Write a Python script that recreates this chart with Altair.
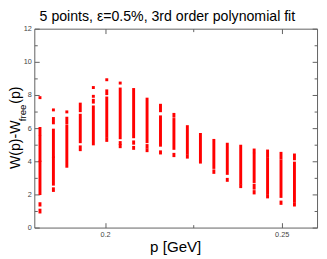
import altair as alt
import pandas as pd

# ---------------- data ----------------
P_GEV = [0.1816, 0.1854, 0.1892, 0.1930, 0.1967, 0.2005, 0.2043, 0.2081, 0.2119, 0.2157,
         0.2195, 0.2233, 0.2270, 0.2308, 0.2346, 0.2384, 0.2422, 0.2460, 0.2498, 0.2536]

# each column of points = runs of stacked points; lo == hi is a single point
SEG_LO = [
    [7.84, 5.65, 4.05, 2.05, 1.36, 0.94],
    [7.10, 6.32, 4.30, 2.62, 2.24],
    [6.98, 6.30, 3.70],
    [7.05, 5.18, 4.70],
    [8.45, 7.92, 7.57, 5.05],
    [8.92, 8.08, 5.50, 5.26],
    [8.72, 5.42, 5.08, 4.88],
    [5.48, 5.09, 4.78],
    [5.18, 4.87, 4.64],
    [7.05, 4.97, 4.50],
    [6.72, 4.78, 4.34],
    [4.48, 4.25],
    [3.95],
    [3.63, 3.33],
    [4.89, 3.27, 2.85],
    [2.68, 2.47],
    [4.58, 2.78, 2.38, 2.09],
    [4.30, 2.09, 1.85],
    [4.21, 1.88, 1.46],
    [4.15, 1.60, 1.36],
]
SEG_HI = [
    [7.84, 5.98, 5.50, 3.95, 1.44, 1.05],
    [7.10, 6.58, 5.88, 4.20, 2.34],
    [6.98, 6.60, 6.10],
    [7.45, 6.78, 4.87],
    [8.45, 7.92, 7.68, 7.28],
    [8.92, 8.25, 7.82, 5.33],
    [8.72, 8.36, 5.13, 4.95],
    [8.33, 5.17, 4.84],
    [7.75, 4.95, 4.70],
    [7.38, 6.68, 4.57],
    [6.83, 6.52, 4.42],
    [6.09, 4.32],
    [5.62],
    [5.26, 3.42],
    [5.03, 4.72, 2.91],
    [4.91, 2.53],
    [4.68, 4.42, 2.56, 2.17],
    [4.62, 4.15, 1.93],
    [4.48, 4.03, 1.54],
    [4.38, 3.89, 1.44],
]

X_DOMAIN = [0.18, 0.26]
Y_DOMAIN = [0, 12]
X_MAJOR = [0.2, 0.25]
X_TICKS = [0.2, 0.225, 0.25]
Y_MAJOR = [0, 2, 4, 6, 8, 10, 12]
Y_TICKS = list(range(0, 13))

TITLE = "5 points, ε=0.5%, 3rd order polynomial fit"
X_TITLE = "p [GeV]"
Y_TITLE_MAIN = "W(p)-W"
Y_TITLE_SUB = "free"
Y_TITLE_END = "(p)"

# ---------------- chart ----------------
rows = []
for p, los, his in zip(P_GEV, SEG_LO, SEG_HI):
    for lo, hi in zip(los, his):
        rows.append({"p": p, "lo": lo, "hi": hi})
df = pd.DataFrame(rows)

W, H = 290, 204
GRAY = "#5f5f5f"
LABEL = "#444444"
FONT = "Liberation Sans"

xs = alt.Scale(domain=X_DOMAIN, nice=False, zero=False)
ys = alt.Scale(domain=Y_DOMAIN, nice=False, zero=False)


def tick_axis(orient, offset, values, minor_test):
    return alt.Axis(orient=orient, offset=offset, values=values, labels=False, title=None,
                    domain=False, grid=False, ticks=True, tickColor=GRAY, tickWidth=1,
                    tickSize={"condition": {"test": minor_test, "value": 3}, "value": 5})


def tick_layer(xo, yo):
    return alt.Chart(df).mark_rule(opacity=0).encode(
        x=alt.X("p:Q", scale=xs, axis=tick_axis(xo, -H, X_TICKS, "abs(datum.value - 0.225) < 1e-9")),
        y=alt.Y("lo:Q", scale=ys, axis=tick_axis(yo, -W, Y_TICKS, "datum.value % 2 == 1")),
        y2="hi:Q",
    )


points = alt.Chart(df).mark_rule(color="#ff0000", strokeWidth=3, strokeCap="square").encode(
    x=alt.X("p:Q", scale=xs,
            axis=alt.Axis(orient="bottom", values=X_MAJOR, format="~g", title=None, domain=False,
                          grid=False, ticks=False, tickSize=0, labelFont=FONT, labelFontSize=7.5,
                          labelColor=LABEL, labelPadding=3)),
    y=alt.Y("lo:Q", scale=ys,
            axis=alt.Axis(orient="left", values=Y_MAJOR, title=None, domain=False, grid=False,
                          ticks=False, tickSize=0, labelFont=FONT, labelFontSize=7.5,
                          labelColor=LABEL, labelPadding=3)),
    y2="hi:Q",
)


def text_layer(s, x, y, size, angle=0, align="left"):
    return alt.Chart(pd.DataFrame({"t": [s]})).mark_text(
        font=FONT, fontSize=size, angle=angle, align=align, baseline="alphabetic", color="black"
    ).encode(text="t:N", x=alt.value(x), y=alt.value(y))


title = text_layer(TITLE, 136.5, -7.5, 14.5, align="center")
xtitle = text_layer(X_TITLE, 145, 229, 15.5, align="center")
yt1 = text_layer(Y_TITLE_MAIN, -15, 144, 14.5, angle=270)
yt2 = text_layer(Y_TITLE_SUB, -8.5, 95, 10, angle=270)
yt3 = text_layer(Y_TITLE_END, -15, 77, 14.5, angle=270)

chart = alt.layer(
    tick_layer("top", "right"),
    tick_layer("bottom", "left"),
    points, title, xtitle, yt1, yt2, yt3,
).resolve_axis(x="independent", y="independent").properties(
    width=W, height=H,
    autosize=alt.AutoSizeParams(type="none"),
    padding={"left": 27, "top": 18, "right": 2, "bottom": 29},
).configure_view(stroke=GRAY, strokeWidth=1)

chart.save("out.html", embed_options={"renderer": "svg", "actions": False})
